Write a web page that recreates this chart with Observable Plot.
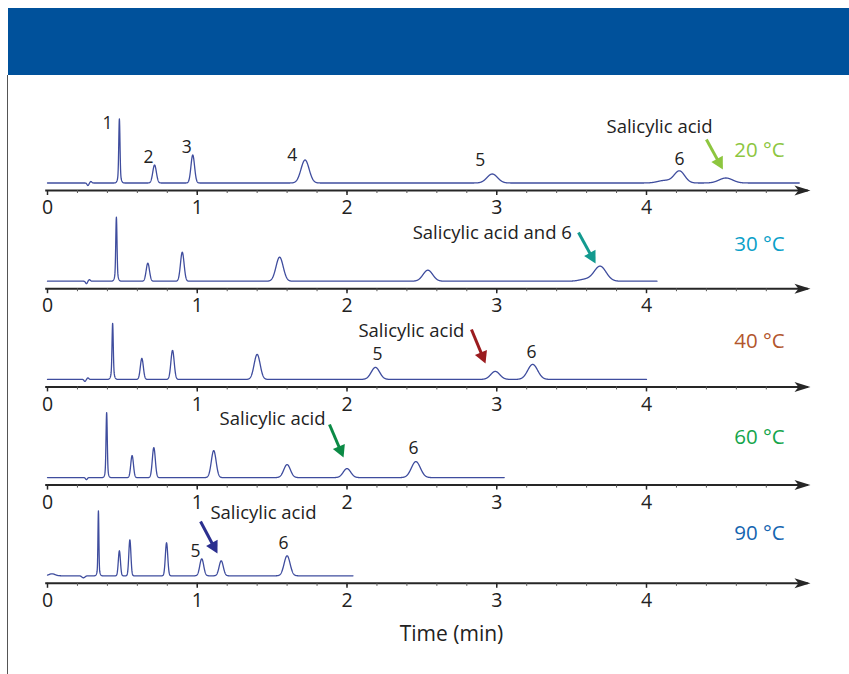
<!DOCTYPE html>
<html>
<head>
<meta charset="utf-8">
<script src="https://cdn.jsdelivr.net/npm/d3@7"></script>
<script src="https://cdn.jsdelivr.net/npm/@observablehq/plot@0.6"></script>
<style>
  body { margin: 0; background: #fff; font-family: "Open Sans", sans-serif; }
  #wrap { position: relative; width: 849px; height: 674px; overflow: hidden; background: #fff; }
  #header { position: absolute; left: 8px; top: 8px; width: 841px; height: 67px; background: #00519b; }
  #leftline { position: absolute; left: 7px; top: 75px; width: 1px; height: 599px; background: #555; }
  #chart { position: absolute; left: 0; top: 75px; }
</style>
</head>
<body>
<div id="wrap"><div id="header"></div><div id="leftline"></div><div id="chart"></div></div>
<script>
// ---------------- DATA ----------------
const temperatures = ["20 °C", "30 °C", "40 °C", "60 °C", "90 °C"];
const runEnd = [5.02, 4.07, 4.0, 3.05, 2.04];           // end of each recorded trace (min)
const tickValues = [0, 1, 2, 3, 4];
const tickLabels = ["0", "1", "2", "3", "4"];
const axisTitle = "Time (min)";

// peaks: [retention time (min), height (signal units), width sigma (min)]
const peaks20 = [[0.27,-2.5,0.006],[0.29,1.5,0.006],[0.48,56,0.004],[0.48,8,0.01],[0.715,18,0.012],[0.97,28,0.012],
                 [1.72,23,0.027],[2.97,9,0.035],[4.12,2.5,0.045],[4.22,12,0.035],[4.53,5,0.045]];
const peaks30 = [[0.26,-2.5,0.006],[0.28,1.5,0.006],[0.46,56,0.004],[0.46,8,0.01],[0.67,18,0.011],[0.90,29,0.012],
                 [1.55,24,0.024],[2.54,11,0.032],[3.59,1.8,0.04],[3.69,15,0.04]];
const peaks40 = [[0.25,-2,0.006],[0.27,1.5,0.006],[0.435,48,0.004],[0.435,8,0.01],[0.63,21,0.01],[0.835,29,0.011],
                 [1.40,25,0.02],[2.19,12,0.028],[2.99,8,0.03],[3.24,15,0.033]];
const peaks60 = [[0.26,-2,0.006],[0.395,57,0.004],[0.395,8,0.009],[0.565,22,0.009],[0.71,30,0.01],
                 [1.11,27,0.016],[1.60,13,0.022],[2.0,9,0.025],[2.46,16,0.03]];
const peaks90 = [[0.03,2,0.02],[0.24,-2,0.01],[0.34,58,0.003],[0.34,7,0.008],[0.48,25,0.007],[0.55,36,0.007],
                 [0.795,33,0.008],[1.03,17,0.013],[1.16,15,0.014],[1.60,20,0.02]];
const peakSets = [peaks20, peaks30, peaks40, peaks60, peaks90];

// peak / annotation labels per run
const labels20 = ["1", "2", "3", "4", "5", "6", "Salicylic acid"];
const labels30 = ["Salicylic acid and 6"];
const labels40 = ["Salicylic acid", "5", "6"];
const labels60 = ["Salicylic acid", "6"];
const labels90 = ["Salicylic acid", "5", "6"];
const labelSets = [labels20, labels30, labels40, labels60, labels90];

// ---------------- LAYOUT / STYLE ----------------
const tempColors  = ["#8dc63f", "#0aa0c8", "#b2562c", "#14a54b", "#1565b0"];
const arrowColors = ["#8dc63f", "#139a8f", "#9b1c1f", "#0b8a45", "#2b2f8f"];
// label positions: [x (min), height above baseline]
const labelPos = [
  [[0.40,59.5],[0.675,25.5],[0.93,35.5],[1.635,27.5],[2.89,22.5],[4.22,23.5],[4.087,55.5]],
  [[2.97,47.7]],
  [[2.43,48.6],[2.204,24.6],[3.232,26.9]],
  [[1.503,58.1],[2.444,29.1]],
  [[1.442,62.3],[0.988,24.3],[1.576,32.3]]
];
// annotation arrows: [x start, y start, x tip, y tip] (min, height above baseline)
const arrowPos = [
  [4.40,43.5,4.51,13.5],
  [3.546,48.7,3.66,17.7],
  [2.831,49.9,2.925,15.9],
  [1.883,53.1,1.977,20.1],
  [1.022,54.3,1.135,22.3]
];
const tempLabelY = [32.5, 36.7, 37.9, 40.1, 42.3];
const tempLabelX = 4.755;

const W = 849, H = 599;
const pxPerMin = (646 - 47) / 4;
const step = 98.2;
const axisLevel = i => 484 - step * i;
const baseLevel = i => axisLevel(i) + 7.5;
const font = "'Open Sans', sans-serif";

// ---------------- BUILD ROWS ----------------
const traceRows = [];
peakSets.forEach((peaks, i) => {
  const n = Math.round(runEnd[i] / 0.001);
  for (let k = 0; k <= n; k++) {
    const t = k * 0.001;
    let s = 0;
    for (const [t0, h, sg] of peaks) s += h * Math.exp(-0.5 * ((t - t0) / sg) ** 2);
    traceRows.push({panel: i, t, v: baseLevel(i) + s});
  }
});

const axisRows = temperatures.map((temp, i) => ({panel: i, y: axisLevel(i), x1: -0.012, x2: 5.08, tip: 5.095}));
const minorRows = [], majorRows = [];
temperatures.forEach((temp, i) => {
  for (let k = 0; k <= 24; k++) minorRows.push({t: k * 0.2, y: axisLevel(i)});
  tickValues.forEach((v, j) => majorRows.push({t: v, y: axisLevel(i), label: tickLabels[j]}));
});

const labelRows = [];
labelSets.forEach((labels, i) => labels.forEach((txt, j) => {
  const [x, dy] = labelPos[i][j];
  labelRows.push({text: txt, x, y: baseLevel(i) + dy, size: txt.length > 2 ? 18.5 : 17.5});
}));

const tempRows = temperatures.map((temp, i) => ({text: temp, x: tempLabelX, y: baseLevel(i) + tempLabelY[i], color: tempColors[i]}));

const arrowRows = arrowPos.map(([xs, ys, xt, yt], i) => {
  const b = baseLevel(i);
  const dxPx = (xt - xs) * pxPerMin, dyPx = -(yt - ys);
  const len = Math.hypot(dxPx, dyPx);
  const ux = dxPx / len, uy = dyPx / len;
  return {
    x1: xs, y1: b + ys, x2: xt, y2: b + yt,
    xe: xt - 9 * ux / pxPerMin, ye: b + yt + 9 * uy,
    angle: Math.atan2(dyPx, dxPx) * 180 / Math.PI,
    color: arrowColors[i]
  };
});

// custom arrowhead symbols (tip at the point, pointing right before rotation)
const axisHead = {draw(ctx) { ctx.moveTo(0, 0); ctx.lineTo(-16, -5); ctx.lineTo(-12, 0); ctx.lineTo(-16, 5); ctx.closePath(); }};
const annHead  = {draw(ctx) { ctx.moveTo(0, 0); ctx.lineTo(-12, -6.5); ctx.lineTo(-12, 6.5); ctx.closePath(); }};

// ---------------- PLOT ----------------
const chart = Plot.plot({
  width: W, height: H,
  marginLeft: 47, marginRight: W - 646, marginTop: 0, marginBottom: 0,
  x: {domain: [0, 4], axis: null},
  y: {domain: [0, H], axis: null},
  color: {type: "identity"},
  style: {fontFamily: font, background: "transparent", overflow: "visible"},
  marks: [
    Plot.ruleY(axisRows, {y: "y", x1: "x1", x2: "x2", stroke: "#262626", strokeWidth: 2}),
    Plot.dot(axisRows, {x: "tip", y: "y", symbol: axisHead, fill: "#262626", stroke: "none"}),
    Plot.ruleX(minorRows, {x: "t", y1: "y", y2: d => d.y - 3, stroke: "#555", strokeWidth: 1}),
    Plot.ruleX(majorRows, {x: "t", y1: "y", y2: d => d.y - 5, stroke: "#262626", strokeWidth: 1.5}),
    Plot.text(majorRows, {x: "t", y: d => d.y - 17.5, text: "label", fontSize: 19.5, fill: "#222", fontFamily: font}),
    Plot.line(traceRows, {x: "t", y: "v", z: "panel", stroke: "#3f4d9e", strokeWidth: 1.3}),
    Plot.text(labelRows.filter(d => d.size > 18), {x: "x", y: "y", text: "text", fontSize: 18.5, fill: "#222", fontFamily: font}),
    Plot.text(labelRows.filter(d => d.size < 18), {x: "x", y: "y", text: "text", fontSize: 17.5, fill: "#222", fontFamily: font}),
    Plot.text(tempRows, {x: "x", y: "y", text: "text", fill: "color", fontSize: 20.5, fontFamily: font}),
    Plot.link(arrowRows, {x1: "x1", y1: "y1", x2: "xe", y2: "ye", stroke: "color", strokeWidth: 3}),
    Plot.dot(arrowRows, {x: "x2", y: "y2", symbol: annHead, fill: "color", stroke: "none", rotate: "angle"}),
    Plot.text([axisTitle], {x: 2.698, y: 40, text: d => d, fontSize: 21, fill: "#222", fontFamily: font})
  ]
});
document.getElementById("chart").appendChild(chart);
</script>
</body>
</html>
